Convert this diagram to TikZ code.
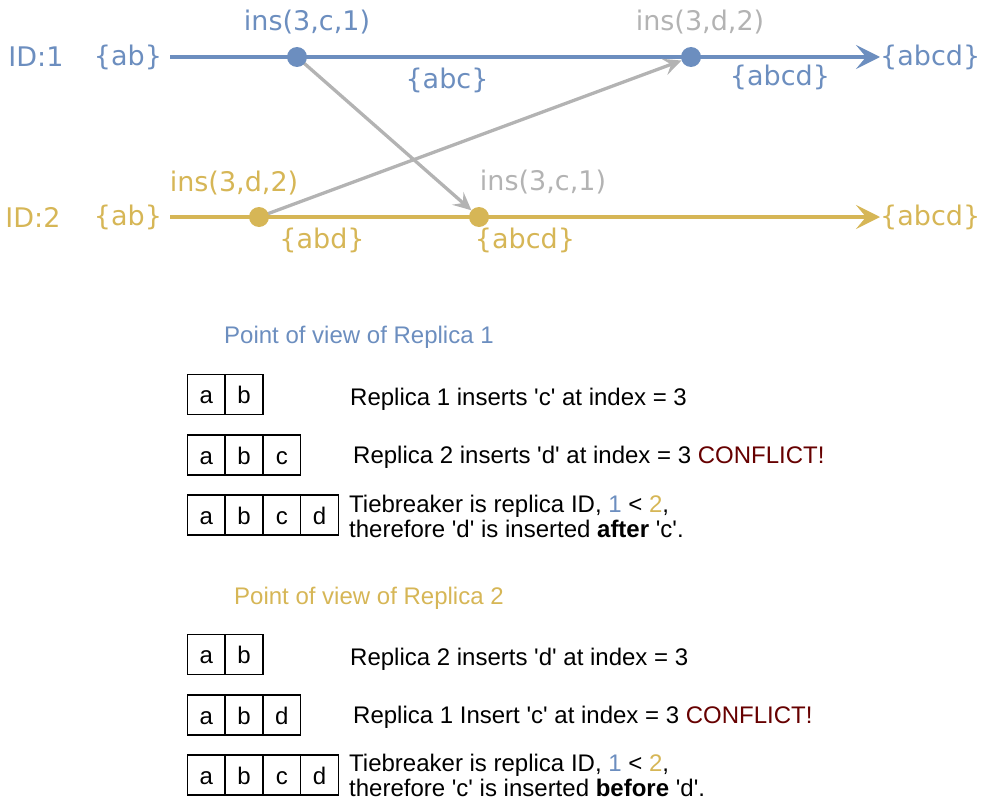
\documentclass[tikz,border=0pt]{standalone}
\usepackage{fontspec}
\newfontfamily\topfont{DejaVu Sans}
\newfontfamily\lowfont{Liberation Sans}
\definecolor{replicablue}{HTML}{6C8EBF}
\definecolor{replicagold}{HTML}{D6B656}
\definecolor{msggray}{HTML}{B3B3B3}
\definecolor{conflictred}{HTML}{660000}
\usetikzlibrary{arrows.meta, positioning, backgrounds}

\begin{document}
\begin{tikzpicture}[x=1pt, y=-1pt,
    lbl/.style={font=\topfont\fontsize{27}{30}\selectfont, inner sep=0pt},
    txt/.style={font=\lowfont\fontsize{24}{25}\selectfont, inner sep=0pt, anchor=base west},
    cell/.style={draw, line width=1.3pt, minimum width=37.8pt, minimum height=40pt, inner sep=0pt, outer sep=0pt,
                 text height=18.4pt, text depth=0pt, font=\lowfont\fontsize{24}{25}\selectfont},
    event/.style={circle, fill=#1, minimum size=20pt, inner sep=0pt},
    timeline/.style={line width=3.5pt, color=#1, shorten <=8pt, -{Stealth[length=24pt, width=24pt, inset=10pt]}},
    msg/.style={line width=3.3pt, msggray, -{Stealth[length=18pt, width=17pt, inset=7pt]}}]
        \useasboundingbox (0,0) rectangle (982,800);

        % replica 1
        \node[lbl, text=replicablue] (id1) at (36,57) {ID:1};
        \node[lbl, text=replicablue] (ab1) at (128,57) {\{ab\}};
        \node[event=replicablue] (b1) at (297,57) {};
        \node[event=replicablue] (b2) at (691,57) {};
        \node[lbl, anchor=west, text=replicablue] (fin1) at (880,57) {\{abcd\}};
        \node[lbl, text=replicablue] (op1) at (307,22) {ins(3,c,1)};
        \node[lbl, text=replicablue] (st1) at (447,80) {\{abc\}};
        \node[lbl, text=msggray] (rcv1) at (700,22) {ins(3,d,2)};
        \node[lbl, text=replicablue] (st2) at (780,77) {\{abcd\}};

        % replica 2
        \node[lbl, text=replicagold] (id2) at (33,217) {ID:2};
        \node[lbl, text=replicagold] (ab2) at (128,217) {\{ab\}};
        \node[event=replicagold] (y1) at (259,217) {};
        \node[event=replicagold] (y2) at (479,217) {};
        \node[lbl, anchor=west, text=replicagold] (fin2) at (880,217) {\{abcd\}};
        \node[lbl, text=replicagold] (op2) at (234,183) {ins(3,d,2)};
        \node[lbl, text=replicagold] (st3) at (322,240) {\{abd\}};
        \node[lbl, text=msggray] (rcv2) at (543,182) {ins(3,c,1)};
        \node[lbl, text=replicagold] (st4) at (525,240) {\{abcd\}};

        \begin{scope}[on background layer]
            \draw[timeline=replicablue] (ab1.east) -- (fin1.west);
            \draw[timeline=replicagold] (ab2.east) -- (fin2.west);
            \draw[msg] (b1.center) -- (y2);
            \draw[msg] (y1.center) -- (b2);
        \end{scope}

        % point of view of replica 1
        \node[txt, text=replicablue] (pov1) at (224,343) {Point of view of Replica 1};
        \node[cell] (r1a) at (206.2,394.5) {a};
        \node[cell, right=0pt of r1a] (r1b) {b};
        \node[txt] (t1) at (350,405) {Replica 1 inserts 'c' at index = 3};
        \node[cell] (r2a) at (206.2,455) {a};
        \node[cell, right=0pt of r2a] (r2b) {b};
        \node[cell, right=0pt of r2b] (r2c) {c};
        \node[txt] (t2) at (353,463) {Replica 2 inserts 'd' at index = 3 \textcolor{conflictred}{CONFLICT!}};
        \node[cell] (r3a) at (206.2,515) {a};
        \node[cell, right=0pt of r3a] (r3b) {b};
        \node[cell, right=0pt of r3b] (r3c) {c};
        \node[cell, right=0pt of r3c] (r3d) {d};
        \node[txt, anchor=west, align=left] (t3) at (349,516) {Tiebreaker is replica ID, \textcolor{replicablue}{1} < \textcolor{replicagold}{2},\\therefore 'd' is inserted \textbf{after} 'c'.};

        % point of view of replica 2
        \node[txt, text=replicagold] (pov2) at (234,604) {Point of view of Replica 2};
        \node[cell] (r4a) at (206.2,654.5) {a};
        \node[cell, right=0pt of r4a] (r4b) {b};
        \node[txt] (t4) at (350,665) {Replica 2 inserts 'd' at index = 3};
        \node[cell] (r5a) at (206.2,715) {a};
        \node[cell, right=0pt of r5a] (r5b) {b};
        \node[cell, right=0pt of r5b] (r5d) {d};
        \node[txt] (t5) at (353,723) {Replica 1 Insert 'c' at index = 3 \textcolor{conflictred}{CONFLICT!}};
        \node[cell] (r6a) at (206.2,775) {a};
        \node[cell, right=0pt of r6a] (r6b) {b};
        \node[cell, right=0pt of r6b] (r6c) {c};
        \node[cell, right=0pt of r6c] (r6d) {d};
        \node[txt, anchor=west, align=left] (t6) at (349,775) {Tiebreaker is replica ID, \textcolor{replicablue}{1} < \textcolor{replicagold}{2},\\therefore 'c' is inserted \textbf{before} 'd'.};
\end{tikzpicture}
\end{document}
